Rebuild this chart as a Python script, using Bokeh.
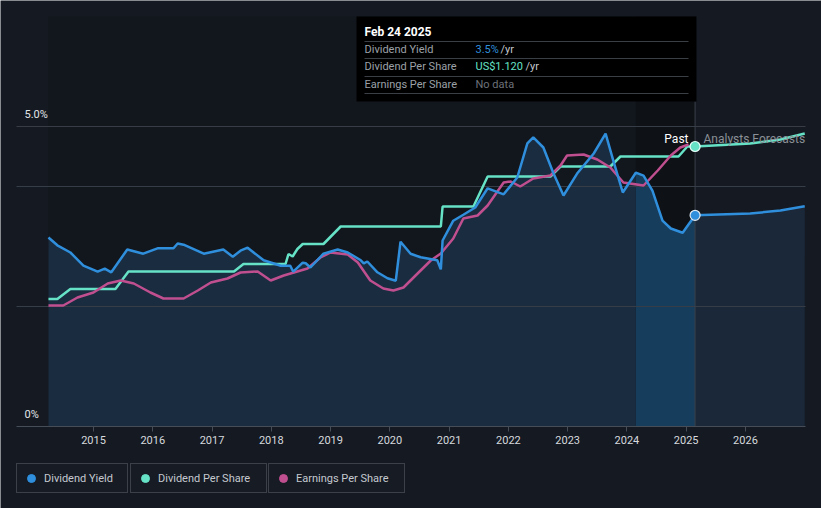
from bokeh.plotting import figure
from bokeh.models import (Range1d, FixedTicker, BoxAnnotation, Label, Legend, LegendItem)
from bokeh.embed import file_html
from bokeh.resources import INLINE

# ---------------- data ----------------
yield_years = [2014.24, 2014.39, 2014.61, 2014.83, 2015.07, 2015.19, 2015.30, 2015.57, 2015.84,
               2016.08, 2016.35, 2016.42, 2016.52, 2016.86, 2017.19, 2017.35, 2017.48, 2017.60,
               2017.87, 2018.16, 2018.32, 2018.37, 2018.53, 2018.58, 2018.66, 2018.88, 2019.12,
               2019.29, 2019.51, 2019.56, 2019.62, 2019.79, 2019.96, 2020.10, 2020.18, 2020.35,
               2020.52, 2020.80, 2020.86, 2020.89, 2021.07, 2021.24, 2021.44, 2021.65, 2021.92,
               2022.15, 2022.32, 2022.42, 2022.59, 2022.76, 2022.93, 2023.17, 2023.44, 2023.64,
               2023.77, 2023.93, 2024.15, 2024.28, 2024.43, 2024.60, 2024.74, 2024.94, 2025.15]
yield_vals = [3.15, 3.02, 2.90, 2.68, 2.58, 2.63, 2.57, 2.95, 2.88,
              2.97, 2.97, 3.05, 3.03, 2.88, 2.95, 2.83, 2.93, 2.98,
              2.77, 2.68, 2.68, 2.58, 2.73, 2.72, 2.65, 2.88, 2.95,
              2.90, 2.77, 2.72, 2.75, 2.57, 2.47, 2.43, 3.08, 2.88,
              2.82, 2.77, 2.62, 3.10, 3.43, 3.53, 3.65, 3.97, 3.87,
              4.15, 4.72, 4.82, 4.65, 4.22, 3.85, 4.23, 4.55, 4.88,
              4.43, 3.90, 4.23, 4.18, 3.93, 3.43, 3.30, 3.23, 3.52]
yield_fc_years = [2025.15, 2026.08, 2026.59, 2027.0]
yield_fc_vals = [3.52, 3.55, 3.60, 3.67]

dps_years = [2014.24, 2014.39, 2014.61, 2015.37, 2015.59, 2017.37, 2017.53, 2018.24, 2018.29,
             2018.36, 2018.44, 2018.53, 2018.88, 2019.17, 2020.86, 2020.89, 2021.41, 2021.65,
             2022.71, 2022.88, 2023.72, 2023.89, 2024.87, 2025.02, 2025.15]
dps_vals = [0.51, 0.51, 0.55, 0.55, 0.62, 0.62, 0.65, 0.65, 0.69,
            0.68, 0.71, 0.73, 0.73, 0.80, 0.80, 0.88, 0.88, 1.00,
            1.00, 1.04, 1.04, 1.08, 1.08, 1.12, 1.12]
dps_fc_years = [2025.15, 2026.08, 2026.59, 2027.0]
dps_fc_vals = [1.12, 1.132, 1.148, 1.172]

eps_years = [2014.24, 2014.49, 2014.73, 2015.00, 2015.24, 2015.46, 2015.68, 2015.96, 2016.18,
             2016.52, 2016.76, 2016.98, 2017.26, 2017.48, 2017.77, 2017.99, 2018.21, 2018.61,
             2018.83, 2019.00, 2019.29, 2019.46, 2019.67, 2019.89, 2020.06, 2020.23, 2020.40,
             2020.69, 2020.86, 2021.07, 2021.24, 2021.48, 2021.65, 2021.92, 2022.04, 2022.20,
             2022.42, 2022.71, 2022.88, 2022.99, 2023.27, 2023.50, 2023.72, 2023.94, 2024.28,
             2024.52, 2024.74, 2024.90, 2025.04]
eps_vals = [2.42, 2.42, 2.58, 2.68, 2.86, 2.92, 2.86, 2.68, 2.56,
            2.56, 2.72, 2.88, 2.96, 3.08, 3.10, 2.92, 3.02, 3.16,
            3.38, 3.48, 3.44, 3.28, 2.92, 2.76, 2.72, 2.78, 2.98,
            3.32, 3.46, 3.76, 4.16, 4.22, 4.42, 4.88, 4.90, 4.80,
            4.96, 5.02, 5.22, 5.42, 5.44, 5.34, 5.18, 4.88, 4.82,
            5.12, 5.42, 5.58, 5.64]

year_ticks = list(range(2015, 2027))
grid_ticks = [2.0, 4.0, 5.0]
band_start = 2024.15
latest = yield_years[-1]

# ---------------- styling / layout ----------------
BG = "#151a22"
BLUE = "#2f8fdc"
TEAL = "#66e2c6"
PINK = "#c04f90"
FONT = "Roboto"

W, H = 821, 508
PX_PER_YEAR = 59.27
X_AT_2014 = 33.73
ZERO_Y = 426.0
PX_PER_PCT = 60.0
DPS_K = 0.24   # dps units per yield unit
EPS_K = 1.2


def dx(sx):
    return 2014 + (sx - X_AT_2014) / PX_PER_YEAR


def dy(sy):
    return (ZERO_Y - sy) / PX_PER_PCT


YB, YT = dy(H), dy(0)

p = figure(width=W, height=H, output_backend="svg", toolbar_location=None,
           x_range=Range1d(dx(0), dx(W)), y_range=Range1d(YB, YT), y_axis_type=None,
           min_border_left=0, min_border_right=0, min_border_top=0, min_border_bottom=0,
           background_fill_color=BG, border_fill_color=BG, outline_line_color=None)
p.extra_y_ranges = {"dps": Range1d(YB * DPS_K, YT * DPS_K), "eps": Range1d(YB * EPS_K, YT * EPS_K)}

p.xgrid.visible = False
ax = p.xaxis[0]
ax.fixed_location = 0
ax.bounds = (dx(16), dx(805))
ax.ticker = FixedTicker(ticks=year_ticks)
ax.axis_line_color = "#474d56"
ax.major_tick_line_color = "#474d56"
ax.major_tick_out = 5
ax.major_tick_in = 0
ax.minor_tick_line_color = None
ax.major_label_text_color = "#d6d9de"
ax.major_label_text_font = FONT
ax.major_label_text_font_size = "11px"
ax.major_label_standoff = 4

# background shading
p.quad(left=yield_years[0], right=latest, bottom=0, top=dy(16), fill_color="#12161d",
       line_color=None, level="image")
p.quad(left=band_start, right=latest, bottom=0, top=dy(16), fill_color="#0e1116",
       line_color=None, level="image")

# yield areas
past_x = [x for x in yield_years if x <= band_start]
past_y = yield_vals[:len(past_x)]
band_x = [x for x in yield_years if x >= band_start]
band_y = yield_vals[len(yield_years) - len(band_x):]
p.varea(x=past_x, y1=0, y2=past_y, fill_color="#1a2c40", level="image")
p.varea(x=band_x, y1=0, y2=band_y, fill_color="#173d5c", level="image")
p.varea(x=yield_fc_years, y1=0, y2=yield_fc_vals, fill_color="#1a2839", level="image")

# horizontal grid lines
p.segment(x0=[dx(16)] * len(grid_ticks), y0=grid_ticks, x1=[dx(805)] * len(grid_ticks),
          y1=grid_ticks, line_color="#373d46", line_width=1, level="underlay")

# vertical marker line at latest date
p.segment(x0=latest, y0=0, x1=latest, y1=dy(101), line_color="#3a414b", line_width=1)

# lines
p.line(dps_years, dps_vals, y_range_name="dps", line_color=TEAL, line_width=2.5)
p.line(dps_fc_years, dps_fc_vals, y_range_name="dps", line_color=TEAL, line_width=2.5)
p.line(eps_years, eps_vals, y_range_name="eps", line_color=PINK, line_width=2.5)
p.line(yield_years, yield_vals, line_color=BLUE, line_width=2.5)
p.line(yield_fc_years, yield_fc_vals, line_color=BLUE, line_width=2.5)

# latest markers
p.scatter([latest], [yield_vals[-1]], size=10, fill_color=BLUE, line_color="#dfe9f3", line_width=1.2)
p.scatter([latest], [dps_vals[-1]], y_range_name="dps", size=10, fill_color=TEAL,
          line_color="#e6fff8", line_width=1.2)


def lab(sx, sy, txt, color, size="11px", style="normal", align="left", level="annotation"):
    p.add_layout(Label(x=dx(sx), y=dy(sy), text=txt, text_color=color, text_font=FONT,
                       text_font_size=size, text_font_style=style, text_baseline="middle",
                       text_align=align, level=level))


# y labels inside plot
lab(24, 114, "5.0%", "#e2e5e9")
lab(24, 414, "0%", "#e2e5e9")

# Past / Analysts Forecasts
lab(688, 138, "Past", "#ffffff", "12px", align="right")
lab(703, 138, "Analysts Forecasts", "#8b9097", "12px")

# tooltip box
p.add_layout(BoxAnnotation(left=dx(356), right=dx(696), top=dy(16), bottom=dy(101),
                           fill_color="#000000", fill_alpha=1.0, line_color=None))
sep_y = [dy(41), dy(58), dy(76), dy(93)]
p.segment(x0=[dx(364)] * 4, y0=sep_y, x1=[dx(688)] * 4, y1=sep_y, line_color="#3a3f46",
          line_width=1, level="overlay")

lab(364, 31, "Feb 24 2025", "#ffffff", "12px", "bold", level="overlay")
lab(364, 49, "Dividend Yield", "#9ca1a8", level="overlay")
lab(364, 66, "Dividend Per Share", "#9ca1a8", level="overlay")
lab(364, 84, "Earnings Per Share", "#9ca1a8", level="overlay")
lab(475, 49, "3.5%", BLUE, level="overlay")
lab(500, 49, "/yr", "#c3c7cc", level="overlay")
lab(475, 66, "US$1.120", TEAL, level="overlay")
lab(525, 66, "/yr", "#c3c7cc", level="overlay")
lab(475, 84, "No data", "#6d7279", level="overlay")

# legend (separate boxed items); location measured from the frame's bottom-left
legend_specs = [("Dividend Yield", BLUE, 16, 79), ("Dividend Per Share", TEAL, 130, 104),
                ("Earnings Per Share", PINK, 268, 104)]
NAN = float("nan")
for name, col, lx, lw in legend_specs:
    # a legend-only renderer: one undrawable (NaN) point so that the legend swatch renders
    r = p.scatter(x=[NAN], y=[NAN], fill_color=col, line_color=col, size=8)
    leg = Legend(items=[LegendItem(label=name, renderers=[r])], location=(lx, H - 493),
                 orientation="horizontal", padding=4, margin=0, spacing=0,
                 glyph_width=20, glyph_height=20, label_height=20, label_width=lw,
                 label_standoff=3, label_text_font=FONT, label_text_font_size="11px",
                 label_text_color="#c5c9cf", background_fill_color="#161b24",
                 background_fill_alpha=1.0, border_line_color="#3b4049",
                 border_line_width=1, border_line_alpha=1.0)
    p.add_layout(leg)

html = file_html(p, INLINE)
html = html.replace("<body>", '<body style="background-color:#151a22;">', 1)
open("out.html", "w").write(html)
